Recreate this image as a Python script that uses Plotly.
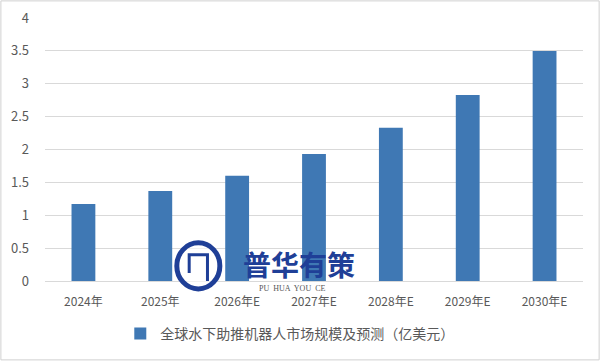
import plotly.graph_objects as go

categories = ["2024年", "2025年", "2026年E", "2027年E", "2028年E", "2029年E", "2030年E"]
values = [1.17, 1.37, 1.60, 1.93, 2.33, 2.83, 3.50]
series_name = "全球水下助推机器人市场规模及预测（亿美元）"
y_ticks = [0, 0.5, 1, 1.5, 2, 2.5, 3, 3.5, 4]

FONT = "Noto Sans CJK SC, Microsoft YaHei, sans-serif"

fig = go.Figure()
fig.add_trace(go.Bar(
    x=categories, y=values, name=series_name,
    marker=dict(color="#3f78b4", line=dict(width=0)),
    showlegend=True,
))

fig.update_layout(
    width=601, height=361,
    margin=dict(l=45, r=18, t=18, b=80, autoexpand=False),
    paper_bgcolor="white", plot_bgcolor="white",
    font=dict(family=FONT, size=12, color="#595959"),
    bargap=0.69,
    showlegend=True,
    legend=dict(orientation="h", x=0.455, xanchor="center", y=-0.14, yanchor="top",
                font=dict(size=14, color="#595959"), itemwidth=30),
    xaxis=dict(showgrid=False, showline=True, linecolor="#d9d9d9", linewidth=1,
               ticks="", ticklabelstandoff=10, automargin=False,
               tickfont=dict(size=12, color="#595959")),
    yaxis=dict(range=[0, 4], tickvals=y_ticks, ticktext=[f"{t:g}" for t in y_ticks],
               showgrid=True, gridcolor="#d9d9d9", gridwidth=1, zeroline=False,
               showline=False, ticks="", ticklabelstandoff=15, automargin=False,
               tickfont=dict(size=13, color="#595959")),
    shapes=[
        dict(type="rect", xref="paper", yref="paper", x0=-0.082, x1=1.03,
             y0=-0.3, y1=1.065, line=dict(color="#d0d0d0", width=1)),
        dict(type="circle", xref="paper", yref="paper", x0=0.245, x1=0.325,
             y0=-0.03, y1=0.145, line=dict(color="#1f3f97", width=5),
             fillcolor="rgba(255,255,255,0.6)"),
        dict(type="path", xref="paper", yref="paper",
             path="M 0.268 0.03 L 0.268 0.1 L 0.302 0.1 L 0.302 0.0",
             line=dict(color="#1f3f97", width=3)),
    ],
    annotations=[
        dict(text="<b>普华有策</b>", xref="paper", yref="paper", x=0.472, y=0.066,
             xanchor="center", yanchor="middle", showarrow=False,
             font=dict(size=28, color="#1f3f97", family=FONT)),
        dict(text="PU  HUA  YOU  CE", xref="paper", yref="paper", x=0.459, y=-0.03,
             xanchor="center", yanchor="middle", showarrow=False,
             font=dict(size=8, color="#555555", family="Liberation Serif")),
    ],
)

fig.write_html("out.html", config={"displayModeBar": False},
               post_script="document.body.style.margin='0';")
